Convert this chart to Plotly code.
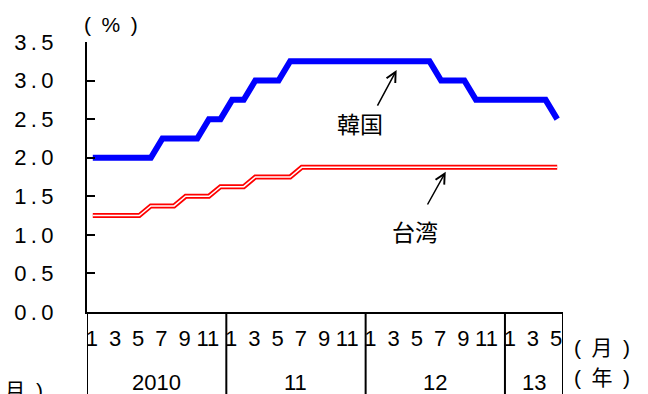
import plotly.graph_objects as go

# Policy rates, monthly, Jan 2010 - May 2013 (%)
years = ["2010", "11", "12", "13"]
months_per_year = [12, 12, 12, 5]

korea = [
    2.00, 2.00, 2.00, 2.00, 2.00, 2.00, 2.25, 2.25, 2.25, 2.25, 2.50, 2.50,
    2.75, 2.75, 3.00, 3.00, 3.00, 3.25, 3.25, 3.25, 3.25, 3.25, 3.25, 3.25,
    3.25, 3.25, 3.25, 3.25, 3.25, 3.25, 3.00, 3.00, 3.00, 2.75, 2.75, 2.75,
    2.75, 2.75, 2.75, 2.75, 2.50,
]
taiwan = [
    1.250, 1.250, 1.250, 1.250, 1.250, 1.375, 1.375, 1.375, 1.500, 1.500, 1.500, 1.625,
    1.625, 1.625, 1.750, 1.750, 1.750, 1.750, 1.875, 1.875, 1.875, 1.875, 1.875, 1.875,
    1.875, 1.875, 1.875, 1.875, 1.875, 1.875, 1.875, 1.875, 1.875, 1.875, 1.875, 1.875,
    1.875, 1.875, 1.875, 1.875, 1.875,
]
y_ticks = [0.0, 0.5, 1.0, 1.5, 2.0, 2.5, 3.0, 3.5]

x = list(range(len(korea)))

# month tick labels (odd months) and year blocks
tickvals, ticktext, year_bounds = [], [], []
start = 0
for yr, n in zip(years, months_per_year):
    for m in range(1, n + 1, 2):
        tickvals.append(start + m - 1)
        ticktext.append(str(m))
    year_bounds.append((start - 0.5, start + n - 0.5, yr))
    start += n

LAT = "Liberation Sans, Arial, Noto Sans CJK JP, sans-serif"
CJK = "Noto Sans CJK JP, sans-serif"
THIN = "\u2009"
EN = "\u2002"


def spaced(v):
    # widen the number a little, like the original typeface
    return THIN.join(f"{v:.1f}")


def bracket(s):
    return f"({EN}{s}{EN})"


fig = go.Figure()
fig.add_trace(go.Scatter(x=x, y=korea, mode="lines", name="韓国",
                         line=dict(color="#0000ff", width=6)))
fig.add_trace(go.Scatter(x=x, y=taiwan, mode="lines", name="台湾",
                         line=dict(color="#ff0000", width=5)))
fig.add_trace(go.Scatter(x=x, y=taiwan, mode="lines", name="台湾",
                         line=dict(color="#ffffff", width=1.5)))

shapes = []
# vertical separators of the date table below the axis
bounds = [year_bounds[0][0]] + [b[1] for b in year_bounds]
for b in bounds:
    shapes.append(dict(type="line", xref="x", yref="paper", x0=b, x1=b,
                       y0=0, y1=-0.4, line=dict(color="black", width=2)))

annotations = []
for x0, x1, yr in year_bounds:
    annotations.append(dict(x=(x0 + x1) / 2, y=-0.261, xref="x", yref="paper",
                            text=yr, showarrow=False, yanchor="middle", xanchor="center",
                            font=dict(family=LAT, size=22, color="black")))

annotations += [
    dict(x=0.05, y=1.063, xref="paper", yref="paper", text=bracket("%"),
         showarrow=False, xanchor="center", yanchor="middle",
         font=dict(family=LAT, size=21, color="black")),
    dict(x=1.082, y=-0.13, xref="paper", yref="paper", text=bracket("月"),
         showarrow=False, xanchor="center", yanchor="middle",
         font=dict(family=LAT, size=21, color="black")),
    dict(x=1.082, y=-0.244, xref="paper", yref="paper", text=bracket("年"),
         showarrow=False, xanchor="center", yanchor="middle",
         font=dict(family=LAT, size=21, color="black")),
    dict(x=-0.151, y=-0.289, xref="paper", yref="paper", text=bracket("月"),
         showarrow=False, xanchor="center", yanchor="middle",
         font=dict(family=LAT, size=21, color="black")),
    dict(x=23.0, y=2.45, xref="x", yref="y", text="韓国", showarrow=False,
         font=dict(family=CJK, size=23, color="black")),
    dict(x=27.75, y=1.05, xref="x", yref="y", text="台湾", showarrow=False,
         font=dict(family=CJK, size=23, color="black")),
    dict(x=26.17, y=3.137, ax=24.45, ay=2.657, xref="x", yref="y", axref="x", ayref="y",
         text="", showarrow=True, arrowhead=5, arrowsize=1.3, arrowwidth=1.5,
         arrowcolor="black"),
    dict(x=30.4, y=1.819, ax=28.76, ay=1.374, xref="x", yref="y", axref="x", ayref="y",
         text="", showarrow=True, arrowhead=5, arrowsize=1.3, arrowwidth=1.5,
         arrowcolor="black"),
]

fig.update_layout(
    width=648, height=394,
    margin=dict(l=87, r=85, t=42, b=82),
    paper_bgcolor="white", plot_bgcolor="white",
    showlegend=False,
    shapes=shapes, annotations=annotations,
    xaxis=dict(range=[-0.5, len(korea) - 0.5], showgrid=False, zeroline=False,
               showline=True, linecolor="black", linewidth=2,
               tickmode="array", tickvals=tickvals, ticktext=ticktext,
               ticks="", ticklabelstandoff=6, ticklabelshift=-1,
               tickfont=dict(family=LAT, size=22, color="black")),
    yaxis=dict(range=[0, 3.5], showgrid=False, zeroline=False,
               showline=True, linecolor="black", linewidth=2,
               tickmode="array", tickvals=y_ticks,
               ticktext=[spaced(v) for v in y_ticks],
               ticks="inside", ticklen=8, tickwidth=2, tickcolor="black",
               ticklabelstandoff=27,
               tickfont=dict(family=LAT, size=22, color="black")),
)

fig.write_html("out.html")
